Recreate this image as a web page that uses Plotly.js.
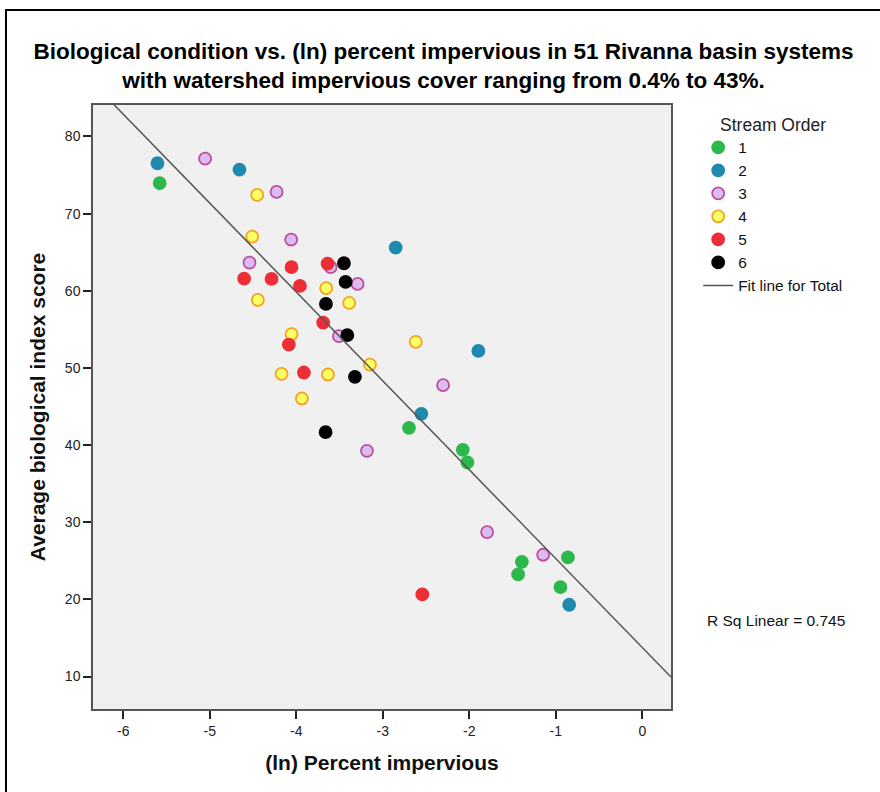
<!DOCTYPE html>
<html>
<head>
<meta charset="utf-8">
<script src="https://cdn.plot.ly/plotly-3.0.1.min.js"></script>
<style>
  html, body { margin: 0; padding: 0; background: #fff; }
  #wrap { position: relative; width: 880px; height: 792px; }
  #chart { width: 880px; height: 792px; }
  #frame {
    position: absolute; left: 5px; top: 9px; right: 0; bottom: 0;
    border-left: 2px solid #000; border-top: 2px solid #000;
    pointer-events: none;
  }
</style>
</head>
<body>
<div id="wrap">
  <div id="chart"></div>
  <div id="frame"></div>
</div>
<script>
// Stream order categories
const streamOrders = ['1', '2', '3', '4', '5', '6'];

// (ln) percent impervious and average biological index score, by stream order
const lnImp1 = [-5.579, -2.697, -2.075, -2.022, -0.860, -1.392, -1.435, -0.946];
const score1 = [73.94, 42.24, 39.39, 37.75, 25.44, 24.88, 23.24, 21.60];

const lnImp2 = [-5.605, -4.657, -2.851, -1.895, -2.554, -0.845];
const score2 = [76.53, 75.70, 65.60, 52.21, 44.05, 19.31];

const lnImp3 = [-5.054, -4.228, -4.059, -4.541, -3.603, -3.291, -3.507, -2.303, -3.183, -1.794, -1.146];
const score3 = [77.12, 72.81, 66.63, 63.65, 63.06, 60.89, 54.12, 47.77, 39.26, 28.73, 25.79];

const lnImp4 = [-4.452, -4.510, -3.654, -4.444, -3.388, -4.055, -2.619, -3.148, -4.170, -3.634, -3.935];
const score4 = [72.42, 67.02, 60.34, 58.82, 58.43, 54.38, 53.38, 50.44, 49.24, 49.15, 46.04];

const lnImp5 = [-4.055, -3.638, -4.603, -4.286, -3.958, -3.689, -4.086, -3.912, -2.543];
const score5 = [63.06, 63.52, 61.58, 61.54, 60.63, 55.88, 53.03, 49.41, 20.65];

const lnImp6 = [-3.449, -3.430, -3.657, -3.410, -3.322, -3.661];
const score6 = [63.57, 61.15, 58.30, 54.25, 48.85, 41.68];

// Axis ticks
const xTicks = [-6, -5, -4, -3, -2, -1, 0];
const yTicks = [10, 20, 30, 40, 50, 60, 70, 80];
const rSqLabel = 'R Sq Linear = 0.745';

const allX = [lnImp1, lnImp2, lnImp3, lnImp4, lnImp5, lnImp6];
const allY = [score1, score2, score3, score4, score5, score6];

// Marker styling per stream order: [fill, outline]
const markerStyles = [
  ['#2db84b', '#2db84b'],
  ['#1f8aae', '#1f8aae'],
  ['#dcbcf0', '#bb4f9c'],
  ['#ffff66', '#f5a21d'],
  ['#ee2e36', '#ee2e36'],
  ['#000000', '#000000']
];

const xRange = [-6.35, 0.332];
const yRange = [5.8, 84.08];

const traces = streamOrders.map((name, i) => ({
  type: 'scatter',
  mode: 'markers',
  name: name,
  x: allX[i],
  y: allY[i],
  marker: {
    size: 12,
    color: markerStyles[i][0],
    line: { color: markerStyles[i][1], width: 1.8 }
  },
  hoverinfo: 'x+y'
}));

// Least-squares fit over all systems
const fx = [].concat(...allX);
const fy = [].concat(...allY);
const n = fx.length;
const mx = fx.reduce((a, b) => a + b, 0) / n;
const my = fy.reduce((a, b) => a + b, 0) / n;
let sxy = 0, sxx = 0;
for (let k = 0; k < n; k++) {
  sxy += (fx[k] - mx) * (fy[k] - my);
  sxx += (fx[k] - mx) * (fx[k] - mx);
}
const slope = sxy / sxx;
const intercept = my - slope * mx;

traces.push({
  type: 'scatter',
  mode: 'lines',
  name: 'Fit line for Total',
  x: xRange,
  y: xRange.map(v => intercept + slope * v),
  line: { color: '#555555', width: 1.5 },
  hoverinfo: 'skip'
});

const layout = {
  width: 880,
  height: 792,
  margin: { l: 93, r: 209, t: 105, b: 83 },
  paper_bgcolor: '#ffffff',
  plot_bgcolor: '#f0f0f0',
  font: { family: '"Liberation Sans", Arial, sans-serif', color: '#222' },
  title: {
    text: 'Biological condition vs. (ln) percent impervious in 51 Rivanna basin systems<br>with watershed impervious cover ranging from 0.4% to 43%.',
    font: { size: 22.5, color: '#000', weight: 'bold' },
    x: 0.504,
    xanchor: 'center',
    y: 0.926,
    yanchor: 'top'
  },
  xaxis: {
    range: xRange,
    tickvals: xTicks,
    ticktext: xTicks.map(String),
    ticks: 'outside',
    ticklen: 8,
    tickwidth: 1.5,
    tickcolor: '#222',
    tickfont: { size: 14, color: '#222' },
    showgrid: false,
    zeroline: false,
    showline: true,
    linecolor: '#555',
    linewidth: 1.5,
    mirror: true,
    title: {
      text: '(ln) Percent impervious',
      font: { size: 21, color: '#111', weight: 'bold' },
      standoff: 18
    }
  },
  yaxis: {
    range: yRange,
    tickvals: yTicks,
    ticktext: yTicks.map(String),
    ticks: 'outside',
    ticklen: 8,
    tickwidth: 1.5,
    tickcolor: '#222',
    tickfont: { size: 14, color: '#222' },
    showgrid: false,
    zeroline: false,
    showline: true,
    linecolor: '#555',
    linewidth: 1.5,
    mirror: true,
    title: {
      text: 'Average biological index score',
      font: { size: 21, color: '#111', weight: 'bold' },
      standoff: 14
    }
  },
  legend: {
    x: 1.047,
    xanchor: 'left',
    y: 0.995,
    yanchor: 'top',
    bgcolor: 'rgba(0,0,0,0)',
    font: { size: 15.4, color: '#111' },
    title: { text: 'Stream Order', side: 'top center', font: { size: 17.5, color: '#222' } },
    traceorder: 'normal',
    itemclick: false,
    itemdoubleclick: false
  },
  annotations: [{
    text: rSqLabel,
    xref: 'paper', yref: 'paper',
    x: 1.182, y: 0.146,
    xanchor: 'center', yanchor: 'middle',
    showarrow: false,
    font: { size: 15.5, color: '#111' }
  }]
};

Plotly.newPlot('chart', traces, layout, { displayModeBar: false, responsive: false });
</script>
</body>
</html>
